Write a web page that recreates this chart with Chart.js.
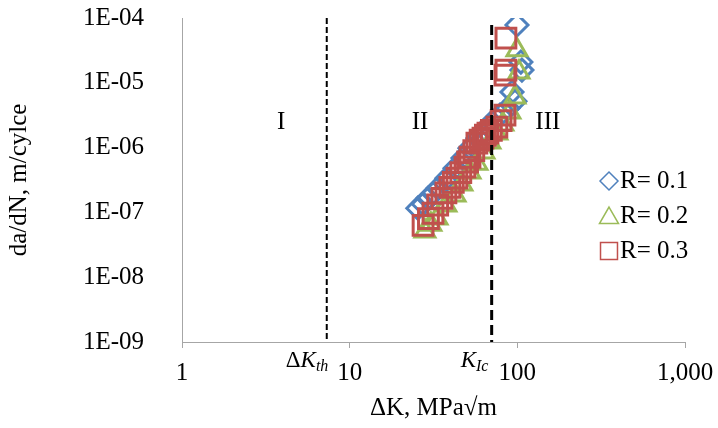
<!DOCTYPE html>
<html>
<head>
<meta charset="utf-8">
<script src="https://cdn.jsdelivr.net/npm/chart.js@4.4.1/dist/chart.umd.min.js"></script>
<style>
    html, body { margin: 0; padding: 0; background: #fff; }
    #wrap { width: 718px; height: 428px; }
</style>
</head>
<body>
<div id="wrap"><canvas id="chart" width="718" height="428"></canvas></div>
<script>
// Datos (da/dN vs dK)
const r01K = [25.5, 27.5, 29.3, 31.5, 33.6, 38.0, 42.5, 47.4, 52.2, 58.2, 64.1, 70.6, 78.8, 87.9, 92.9, 96.8, 106.5, 105.0, 99.5];
const r01Rate = [1.16e-7, 1.35e-7, 1.65e-7, 1.95e-7, 2.36e-7, 3.37e-7, 4.8e-7, 6.9e-7, 9.8e-7, 1.40e-6, 1.86e-6, 2.47e-6, 3.17e-6, 4.06e-6, 7.2e-6, 5.2e-6, 1.57e-5, 2.09e-5, 7.8e-5];

const r02K = [28.1, 30.5, 33.2, 37.5, 42.5, 46.7, 52.2, 57.4, 63.2, 68.6, 75.5, 82.0, 90.3, 96.8, 102.3, 99.5];
const r02Rate = [5.1e-8, 6.5e-8, 8.1e-8, 1.29e-7, 1.84e-7, 2.72e-7, 4.17e-7, 5.7e-7, 8.5e-7, 1.21e-6, 1.67e-6, 2.3e-6, 3.5e-6, 6.0e-6, 1.46e-5, 3.2e-5];

const r03K = [27.4, 29.5, 31.4, 33.5, 35.5, 37.5, 39.6, 41.5, 43.6, 46.0, 48.7, 50.5, 52.2, 55.0, 57.4, 60.0, 62.4, 64.5, 66.8, 70.0, 75.5, 80.0, 84.4, 84.4, 85.5, 85.5];
const r03Rate = [6.3e-8, 8.0e-8, 9.7e-8, 1.3e-7, 1.65e-7, 2.0e-7, 2.44e-7, 2.9e-7, 3.37e-7, 4.1e-7, 4.98e-7, 6.0e-7, 7.1e-7, 9.0e-7, 1.17e-6, 1.3e-6, 1.40e-6, 1.55e-6, 1.67e-6, 1.85e-6, 2.07e-6, 2.6e-6, 3.17e-6, 1.31e-5, 1.57e-5, 4.9e-5];

// Limites de regiones (lineas punteadas)
const dKthX = [7.3, 7.3];
const dKthY = [1e-4, 1e-9];
const kIcX = [70.3, 70.3];
const kIcY = [7.8e-5, 1e-9];

// Ticks
const xTickValues = [1, 10, 100, 1000];
const xTickLabels = ['1', '10', '100', '1,000'];
const yTickValues = [1e-9, 1e-8, 1e-7, 1e-6, 1e-5, 1e-4];
const yTickLabels = ['1E-09', '1E-08', '1E-07', '1E-06', '1E-05', '1E-04'];

// Etiquetas de region I, II, III
const regionNames = ['I', 'II', 'III'];
const regionK = [3.9, 26.3, 152];
const regionRate = [2.47e-6, 2.47e-6, 2.47e-6];

const seriesNames = ['R= 0.1', 'R= 0.2', 'R= 0.3'];

const COLORS = {
    blue: '#4F81BD',
    green: '#9BBB59',
    red: '#C0504D',
    axis: '#A6A6A6',
    text: '#000000'
};
const SERIF = '"Liberation Serif", "Times New Roman", serif';

function toPoints(xs, ys) {
    return xs.map((x, i) => ({ x: x, y: ys[i] }));
}

/**
 * Textos: regiones, dKth, KIc y leyenda
 */
const annotationPlugin = {
    id: 'annotations',
    afterDraw(chart) {
        const ctx = chart.ctx;
        const xs = chart.scales.x;
        const ys = chart.scales.y;
        ctx.save();
        ctx.fillStyle = COLORS.text;
        ctx.textBaseline = 'middle';
        ctx.textAlign = 'center';
        ctx.font = '25px ' + SERIF;
        regionNames.forEach((name, i) => {
            ctx.fillText(name, xs.getPixelForValue(regionK[i]), ys.getPixelForValue(regionRate[i]));
        });

        // dK_th y K_Ic debajo del eje
        const base = ys.bottom + 25;
        ctx.textBaseline = 'alphabetic';
        ctx.textAlign = 'left';
        let px = xs.getPixelForValue(dKthX[0]) - 41;
        ctx.font = '23px ' + SERIF;
        ctx.fillText('\u0394', px, base);
        px += ctx.measureText('\u0394').width;
        ctx.font = 'italic 23px ' + SERIF;
        ctx.fillText('K', px, base);
        px += ctx.measureText('K').width;
        ctx.font = 'italic 16px ' + SERIF;
        ctx.fillText('th', px, base + 4);

        px = xs.getPixelForValue(kIcX[0]) - 31;
        ctx.font = 'italic 23px ' + SERIF;
        ctx.fillText('K', px, base);
        px += ctx.measureText('K').width;
        ctx.font = 'italic 16px ' + SERIF;
        ctx.fillText('Ic', px, base + 4);

        // Leyenda
        const styles = ['rectRot', 'triangle', 'rect'];
        const colors = [COLORS.blue, COLORS.green, COLORS.red];
        const radii = [9, 11, 12];
        ctx.font = '25px ' + SERIF;
        ctx.textBaseline = 'middle';
        seriesNames.forEach((name, i) => {
            const y = 181 + i * 35;
            ctx.strokeStyle = colors[i];
            ctx.fillStyle = 'rgba(0,0,0,0)';
            ctx.lineWidth = 1.5;
            Chart.helpers.drawPoint(ctx, { pointStyle: styles[i], radius: radii[i], rotation: 0, borderWidth: 1.5 }, 609, y + (i === 1 ? 2 : 0));
            ctx.fillStyle = COLORS.text;
            ctx.fillText(name, 620, y);
        });
        ctx.restore();
    }
};

const markerBase = {
    showLine: false,
    backgroundColor: 'rgba(0,0,0,0)',
    borderWidth: 3
};

new Chart(document.getElementById('chart').getContext('2d'), {
    type: 'scatter',
    data: {
        datasets: [
            { type: 'line', label: 'dKth', data: toPoints(dKthX, dKthY), borderColor: '#000', borderWidth: 2, borderDash: [6, 3], pointRadius: 0, fill: false, order: -2 },
            { type: 'line', label: 'KIc', data: toPoints(kIcX, kIcY), borderColor: '#000', borderWidth: 3, borderDash: [10, 5], pointRadius: 0, fill: false, order: -1 },
            { ...markerBase, label: seriesNames[2], data: toPoints(r03K, r03Rate), borderColor: COLORS.red, pointStyle: 'rect', pointRadius: 14, order: 0 },
            { ...markerBase, label: seriesNames[1], data: toPoints(r02K, r02Rate), borderColor: COLORS.green, pointStyle: 'triangle', pointRadius: 11.5, order: 1 },
            { ...markerBase, label: seriesNames[0], data: toPoints(r01K, r01Rate), borderColor: COLORS.blue, pointStyle: 'rectRot', pointRadius: 11, order: 2 }
        ]
    },
    options: {
        responsive: false,
        animation: false,
        layout: { padding: { top: 18, right: 33, bottom: 0, left: 0 } },
        plugins: {
            legend: { display: false },
            tooltip: { enabled: false }
        },
        scales: {
            x: {
                type: 'logarithmic',
                position: 'bottom',
                min: 1,
                max: 1000,
                afterBuildTicks: s => { s.ticks = xTickValues.map(v => ({ value: v })); },
                afterFit: s => {
                    s.height = 86;
                    s.paddingLeft = 0;
                    s.paddingRight = 0;
                },
                ticks: {
                    autoSkip: false,
                    maxRotation: 0,
                    padding: 10,
                    color: COLORS.text,
                    font: { family: SERIF, size: 25 },
                    callback: (v, i) => xTickLabels[i]
                },
                grid: { display: true, drawOnChartArea: false, drawTicks: true, tickLength: 6, color: COLORS.axis },
                border: { display: true, color: COLORS.axis, width: 1 },
                title: { display: true, text: '\u0394K, MPa\u221Am', color: COLORS.text, font: { family: SERIF, size: 25 }, padding: { top: 0, bottom: 5 } }
            },
            y: {
                type: 'logarithmic',
                position: 'left',
                min: 1e-9,
                max: 1e-4,
                afterBuildTicks: s => { s.ticks = yTickValues.map(v => ({ value: v })); },
                afterFit: s => {
                    s.width = 182;
                    s.paddingTop = 0;
                    s.paddingBottom = 0;
                },
                ticks: {
                    autoSkip: false,
                    padding: 30,
                    color: COLORS.text,
                    font: { family: SERIF, size: 25 },
                    callback: (v, i) => yTickLabels[i]
                },
                grid: { display: false },
                border: { display: true, color: COLORS.axis, width: 1 },
                title: { display: true, text: 'da/dN, m/cylce', color: COLORS.text, font: { family: SERIF, size: 25 }, padding: { top: 4, bottom: 0 } }
            }
        }
    },
    plugins: [annotationPlugin]
});
</script>
</body>
</html>
